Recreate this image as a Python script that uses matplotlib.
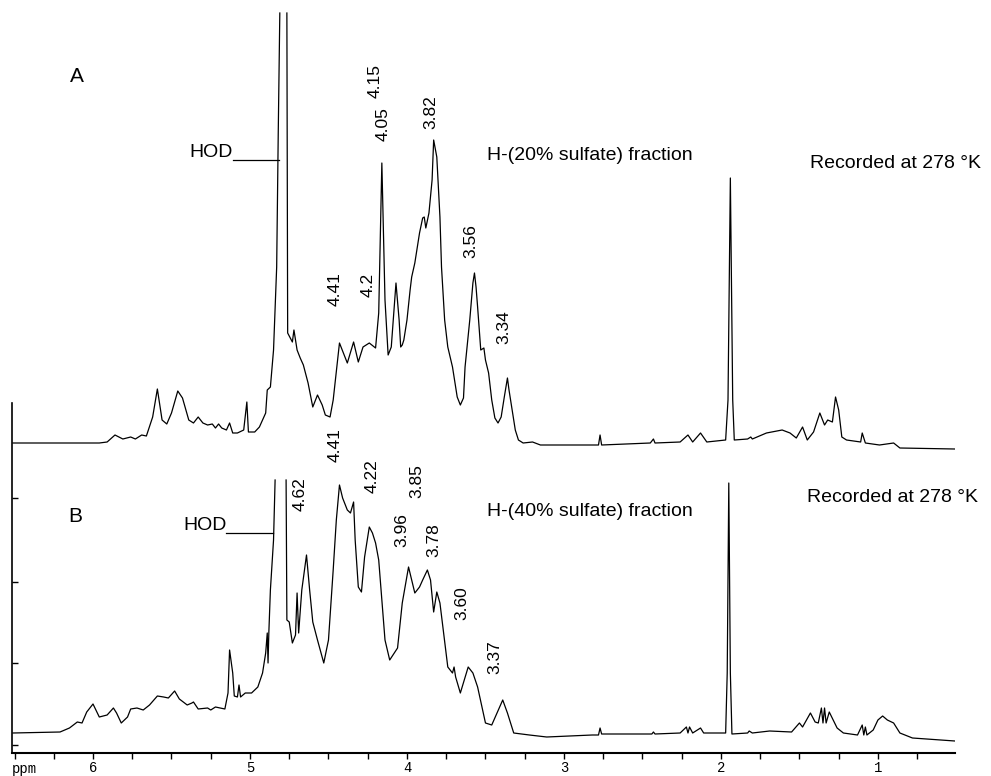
import numpy as np
import matplotlib.pyplot as plt
from matplotlib.ticker import MultipleLocator, FixedLocator

# traced spectrum A (H-(20% sulfate) fraction): ppm, intensity above its baseline
ppm_a = [6.51, 5.96, 5.91, 5.86, 5.81, 5.76, 5.73, 5.69, 5.66, 5.62, 5.59, 5.56, 5.53,
         5.50, 5.46, 5.43, 5.39, 5.36, 5.33, 5.30, 5.27, 5.24, 5.22, 5.20, 5.18, 5.15,
         5.13, 5.11, 5.08, 5.04, 5.02, 5.01, 4.97, 4.94, 4.90, 4.89, 4.87, 4.85, 4.83,
         4.82, 4.81, np.nan, 4.765, 4.76, 4.73, 4.72, 4.70, 4.68, 4.66, 4.63, 4.60, 4.57,
         4.54, 4.52, 4.49, 4.47, 4.43, 4.38, 4.34, 4.31, 4.28, 4.24, 4.20, 4.18, 4.16,
         4.14, 4.12, 4.10, 4.07, 4.05, 4.04, 4.03, 4.02, 4.00, 3.98, 3.97, 3.95, 3.92,
         3.90, 3.89, 3.88, 3.86, 3.84, 3.83, 3.81, 3.80, 3.79, 3.78, 3.76, 3.74, 3.71,
         3.68, 3.66, 3.64, 3.63, 3.60, 3.58, 3.57, 3.56, 3.55, 3.53, 3.51, 3.50, 3.48,
         3.46, 3.44, 3.42, 3.40, 3.38, 3.36, 3.35, 3.33, 3.31, 3.29, 3.26, 3.20, 3.15,
         2.90, 2.78, 2.77, 2.76, 2.45, 2.43, 2.42, 2.26, 2.21, 2.18, 2.13, 2.09, 1.97,
         1.955, 1.94, 1.925, 1.915, 1.83, 1.81, 1.80, 1.71, 1.61, 1.56, 1.52, 1.48,
         1.45, 1.41, 1.37, 1.34, 1.32, 1.29, 1.27, 1.25, 1.23, 1.20, 1.11, 1.10, 1.08,
         0.99, 0.90, 0.86, 0.51]
int_a = [0, 0, 1, 8, 4, 6, 4, 8, 7, 26, 54, 23, 19,
         30, 52, 45, 23, 20, 26, 20, 18, 19, 15, 19, 15, 13,
         20, 10, 10, 13, 41, 11, 11, 16, 30, 53, 56, 93, 176,
         310, 430, np.nan, 430, 110, 101, 113, 93, 85, 78, 60, 36, 48,
         38, 28, 26, 43, 100, 80, 101, 81, 96, 100, 95, 130, 280,
         143, 88, 96, 160, 123, 96, 98, 103, 123, 153, 166, 180, 210,
         225, 226, 215, 230, 263, 303, 286, 256, 226, 176, 123, 96, 76,
         46, 38, 45, 76, 123, 160, 170, 156, 136, 93, 95, 83, 70,
         43, 25, 20, 26, 46, 65, 53, 33, 13, 3, 0, 1, -2,
         -2, -2, 8, -2, 0, 4, 0, 1, 8, 1, 10, 1, 3,
         43, 265, 43, 3, 4, 6, 4, 10, 13, 10, 5, 16,
         3, 11, 30, 18, 23, 21, 46, 33, 6, 3, 1, 10, 0,
         -2, 0, -5, -6]

# traced spectrum B (H-(40% sulfate) fraction)
ppm_b = [6.51, 6.21, 6.15, 6.10, 6.07, 6.04, 6.00, 5.96, 5.91, 5.87, 5.85, 5.82, 5.78,
         5.76, 5.72, 5.68, 5.64, 5.59, 5.55, 5.52, 5.48, 5.45, 5.40, 5.37, 5.36, 5.33,
         5.27, 5.25, 5.22, 5.19, 5.16, 5.14, 5.13, 5.11, 5.10, 5.08, 5.07, 5.06, 5.03,
         4.99, 4.95, 4.92, 4.90, 4.89, 4.885, 4.88, 4.87, 4.85, 4.84, np.nan, 4.77, 4.765,
         4.75, 4.73, 4.71, 4.70, 4.69, 4.67, 4.64, 4.62, 4.60, 4.57, 4.53, 4.50, 4.47,
         4.45, 4.43, 4.41, 4.38, 4.36, 4.34, 4.33, 4.31, 4.29, 4.27, 4.24, 4.22, 4.20,
         4.18, 4.16, 4.14, 4.11, 4.06, 4.03, 3.99, 3.95, 3.92, 3.90, 3.87, 3.85, 3.83,
         3.81, 3.79, 3.74, 3.71, 3.70, 3.69, 3.66, 3.61, 3.58, 3.55, 3.50, 3.46, 3.39,
         3.36, 3.32, 3.22, 3.11, 2.82, 2.78, 2.77, 2.76, 2.44, 2.43, 2.42, 2.26, 2.22,
         2.21, 2.20, 2.18, 2.13, 2.11, 1.97, 1.96, 1.95, 1.94, 1.93, 1.83, 1.82, 1.80,
         1.69, 1.55, 1.50, 1.48, 1.43, 1.40, 1.38, 1.36, 1.35, 1.34, 1.33, 1.31, 1.26,
         1.22, 1.13, 1.10, 1.09, 1.08, 1.07, 1.03, 1.00, 0.97, 0.94, 0.90, 0.86, 0.78,
         0.51]
int_b = [0, 1, 5, 11, 10, 21, 29, 16, 18, 25, 20, 10, 16,
         24, 25, 23, 28, 37, 36, 35, 42, 34, 28, 30, 31, 24,
         25, 23, 26, 25, 24, 40, 83, 60, 37, 36, 48, 36, 40,
         40, 46, 60, 80, 100, 70, 100, 143, 193, 253, np.nan, 253, 113,
         111, 90, 98, 140, 100, 143, 178, 143, 111, 93, 70, 93, 163,
         213, 248, 235, 223, 220, 231, 193, 146, 141, 176, 206, 200, 190,
         173, 133, 93, 73, 85, 130, 166, 140, 146, 153, 163, 153, 121,
         141, 130, 66, 60, 66, 56, 40, 66, 60, 46, 10, 8, 33,
         20, 0, -2, -4, -2, -2, 5, -1, -1, 1, -1, 0, 6,
         0, 6, 0, 5, 0, 0, 60, 250, 60, -1, 0, 2, 0,
         2, 1, 10, 6, 20, 11, 10, 25, 10, 25, 10, 21, 5,
         0, -2, 8, -2, 6, -2, 3, 13, 17, 13, 10, 0, -5,
         -8]

offset_a = 290

labels_a = ['4.15', '4.05', '3.82', '3.56', '3.34', '4.41', '4.2']
label_a_x = [4.20, 4.15, 3.85, 3.59, 3.38, 4.46, 4.25]
label_a_y = [652, 609, 621, 492, 406, 444, 448]

labels_b = ['4.41', '4.62', '4.22', '3.85', '3.96', '3.78', '3.60', '3.37']
label_b_x = [4.46, 4.68, 4.22, 3.94, 4.03, 3.83, 3.65, 3.44]
label_b_y = [288, 239, 257, 252, 203, 193, 130, 76]

plt.rcParams['font.family'] = ['Liberation Sans', 'DejaVu Sans']

fig = plt.figure(figsize=(9.91, 7.76), dpi=100)
ax = fig.add_axes([12/991, 23/776, 943/991, 753/776])

ax.plot(ppm_a, np.array(int_a) + offset_a, color='black', lw=0.9)
ax.plot(ppm_b, int_b, color='black', lw=0.9)

ax.set_xlim(6.516, 0.509)
ax.set_ylim(-20, 733)

ax.spines['top'].set_visible(False)
ax.spines['right'].set_visible(False)
ax.spines['left'].set_bounds(-20, 330)
ax.spines['left'].set_linewidth(1.2)
ax.spines['bottom'].set_linewidth(1.5)

ax.yaxis.set_major_locator(FixedLocator([235, 151, 70, -12]))
ax.tick_params(axis='y', direction='in', length=4, width=1, labelleft=False)
ax.xaxis.set_major_locator(MultipleLocator(1))
ax.xaxis.set_minor_locator(MultipleLocator(0.25))
ax.tick_params(axis='x', which='both', direction='out', length=4, width=1, pad=2,
               labelsize=10, labelfontfamily='Liberation Mono')
ax.set_xticks([6, 5, 4, 3, 2, 1])
ax.set_xticklabels(['6', '5', '4', '3', '2', '1'])
ax.text(6.44, -29, 'ppm', fontsize=10, family='Liberation Mono', ha='center', va='top',
        clip_on=False)

# panel letters
ax.text(6.10, 651, 'A', fontsize=15, ha='center', va='baseline')
ax.text(6.11, 211, 'B', fontsize=15, ha='center', va='baseline')

# HOD markers
ax.text(5.11, 576, 'HOD', fontsize=14, ha='right', va='baseline')
ax.plot([5.108, 4.815], [573, 573], color='black', lw=0.9)
ax.text(5.15, 203, 'HOD', fontsize=14, ha='right', va='baseline')
ax.plot([5.153, 4.853], [200, 200], color='black', lw=0.9)

ax.text(3.49, 573, 'H-(20% sulfate) fraction', fontsize=14, ha='left', va='baseline')
ax.text(1.43, 565, 'Recorded at 278 °K', fontsize=14, ha='left', va='baseline',
        clip_on=False)
ax.text(3.49, 217, 'H-(40% sulfate) fraction', fontsize=14, ha='left', va='baseline')
ax.text(1.45, 231, 'Recorded at 278 °K', fontsize=14, ha='left', va='baseline',
        clip_on=False)

for lab, x, y in zip(labels_a, label_a_x, label_a_y):
    ax.text(x, y, lab, fontsize=12.5, rotation=90, ha='center', va='center')
for lab, x, y in zip(labels_b, label_b_x, label_b_y):
    ax.text(x, y, lab, fontsize=12.5, rotation=90, ha='center', va='center')

fig.savefig('out.png', dpi=100)
